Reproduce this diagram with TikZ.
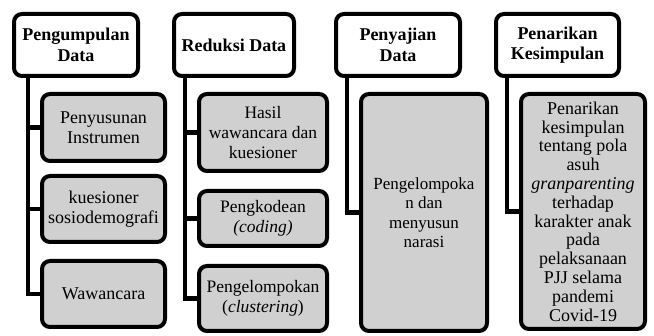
\documentclass[tikz,border=0pt]{standalone}
\usepackage{fontspec}
\setmainfont{Liberation Serif}
\usepackage{tikz}
\usetikzlibrary{positioning,calc}
\definecolor{boxGray}{RGB}{208,208,208}
\tikzset{
	headBox/.style={draw,line width=4pt,rounded corners=8pt,fill=white,align=center,inner sep=2pt,minimum height=62pt,font=\fontsize{18}{20.5}\selectfont\bfseries},
	subBox/.style={draw,line width=4pt,rounded corners=8pt,fill=boxGray,align=center,inner sep=2pt},
	stemLine/.style={line width=4.5pt},
}
\begin{document}
\begin{tikzpicture}[x=1pt,y=-1pt]
				\useasboundingbox (0,0) rectangle (654,336);
				\node[headBox,minimum width=124pt] (h1) at (76,45) {Pengumpulan\\Data};
				\node[headBox,minimum width=120pt] (h2) at (234,45) {Reduksi Data};
				\node[headBox,minimum width=124pt] (h3) at (398,45) {Penyajian\\Data};
				\node[headBox,minimum width=123pt] (h4) at (557.5,45) {Penarikan\\Kesimpulan};
				\node[subBox,minimum width=123pt,minimum height=67pt,font=\fontsize{18}{20.5}\selectfont] (c11) at (103.5,127.5) {Penyusunan\\Instrumen};
				\node[subBox,minimum width=123pt,minimum height=66pt,font=\fontsize{18}{20.5}\selectfont] (c12) at (103.5,209) {kuesioner\\sosiodemografi};
				\node[subBox,minimum width=123pt,minimum height=66pt,font=\fontsize{18}{20.5}\selectfont] (c13) at (103.5,294) {Wawancara};
				\node[subBox,minimum width=128pt,minimum height=77pt,font=\fontsize{17.5}{20}\selectfont] (c21) at (263,132.5) {Hasil\\wawancara dan\\kuesioner};
				\node[subBox,minimum width=128pt,minimum height=55pt,font=\fontsize{17.5}{20}\selectfont] (c22) at (263,218.5) {Pengkodean\\\textit{(coding)}};
				\node[subBox,minimum width=128pt,minimum height=65pt,font=\fontsize{17.5}{20}\selectfont] (c23) at (263,298.5) {Pengelompokan\\(\textit{clustering})};
				\node[subBox,minimum width=126pt,minimum height=237pt,font=\fontsize{17}{19.5}\selectfont] (c31) at (424,212.5) {Pengelompoka\\n dan\\menyusun\\narasi};
				\node[subBox,minimum width=124pt,minimum height=235pt,font=\fontsize{18}{18.8}\selectfont] (c41) at (583,211.5) {Penarikan\\kesimpulan\\tentang pola\\asuh\\\textit{granparenting}\\terhadap\\karakter anak\\pada\\pelaksanaan\\PJJ selama\\pandemi\\Covid-19};
				\foreach \c in {c11,c12,c13}
					\draw[stemLine] ([xshift=16pt]h1.south west) |- (\c.west);
				\foreach \c in {c21,c22,c23}
					\draw[stemLine] ([xshift=13pt]h2.south west) |- (\c.west);
				\draw[stemLine] ([xshift=13pt]h3.south west) |- (c31.west);
				\draw[stemLine] ([xshift=13pt]h4.south west) |- (c41.west);
				\end{tikzpicture}
\end{document}
